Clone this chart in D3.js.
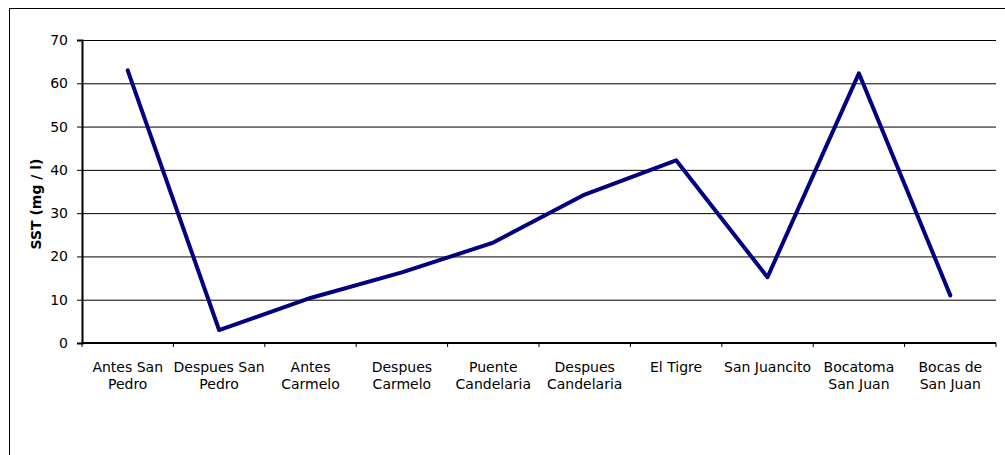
<!DOCTYPE html>
<html>
<head>
<meta charset="utf-8">
<script src="https://cdn.jsdelivr.net/npm/d3@7"></script>
<style>
  body { margin: 0; background: #fff; }
  text { font-family: "DejaVu Sans", Verdana, sans-serif; }
</style>
</head>
<body>
<svg id="chart" width="1005" height="455"></svg>
<script>
const sitios = [
  ["Antes San", "Pedro"], ["Despues San", "Pedro"], ["Antes", "Carmelo"],
  ["Despues", "Carmelo"], ["Puente", "Candelaria"], ["Despues", "Candelaria"],
  ["El Tigre"], ["San Juancito"], ["Bocatoma", "San Juan"], ["Bocas de", "San Juan"]
]
const sst = [63, 3, 10.4, 16.3, 23.2, 34.3, 42.2, 15.2, 62.3, 11]
const yTicks = [0, 10, 20, 30, 40, 50, 60, 70]

const svg = d3.select("#chart")

// marco exterior
svg.append("rect")
   .attr("x", 9.5).attr("y", 8.5)
   .attr("width", 1005).attr("height", 460)
   .attr("fill", "none").attr("stroke", "#000").attr("stroke-width", 1)

const plotLeft = 82, plotRight = 996, plotTop = 40, plotBottom = 343

const x = d3.scaleBand()
            .domain(d3.range(sitios.length))
            .range([plotLeft, plotRight])

const y = d3.scaleLinear()
            .domain([0, 70])
            .range([plotBottom, plotTop])

// lineas de grilla
svg.append("g")
   .selectAll("line")
   .data(yTicks.filter(d => d > 0))
   .enter().append("line")
   .attr("x1", plotLeft).attr("x2", plotRight)
   .attr("y1", d => y(d) + 0.5).attr("y2", d => y(d) + 0.5)
   .attr("stroke", "#000").attr("stroke-width", 1)

// eje y
const yAxis = svg.append("g")
   .attr("transform", "translate(" + plotLeft + ",0)")
   .call(d3.axisLeft(y).tickValues(yTicks).tickSize(5).tickPadding(9))
yAxis.select(".domain").attr("stroke-width", 2)
yAxis.selectAll("text").attr("font-size", 14).attr("fill", "#000")
     .attr("font-family", "DejaVu Sans")

// eje x
const xAxis = svg.append("g")
   .attr("transform", "translate(0," + plotBottom + ")")
xAxis.append("line")
     .attr("x1", plotLeft - 1).attr("x2", plotRight)
     .attr("y1", 0).attr("y2", 0)
     .attr("stroke", "#000").attr("stroke-width", 2)
xAxis.selectAll(".tk")
     .data(d3.range(sitios.length + 1))
     .enter().append("line")
     .attr("x1", d => plotLeft + d * x.step()).attr("x2", d => plotLeft + d * x.step())
     .attr("y1", 0).attr("y2", 4)
     .attr("stroke", "#000")

const labels = svg.append("g")
   .selectAll("text")
   .data(sitios)
   .enter().append("text")
   .attr("text-anchor", "middle")
   .attr("font-size", 14)
   .attr("fill", "#000")
   .attr("transform", (d, i) => "translate(" + (x(i) + x.bandwidth() / 2) + "," + (plotBottom + 29) + ")")
labels.selectAll("tspan")
      .data(d => d)
      .enter().append("tspan")
      .attr("x", 0)
      .attr("dy", (d, i) => i == 0 ? 0 : 17)
      .text(d => d)

// titulo del eje
svg.append("text")
   .attr("transform", "translate(41,204) rotate(-90)")
   .attr("text-anchor", "middle")
   .attr("font-size", 14)
   .attr("font-weight", "bold")
   .text("SST (mg / l)")

// serie
const line = d3.line()
               .x((d, i) => x(i) + x.bandwidth() / 2)
               .y(d => y(d))

svg.append("path")
   .datum(sst)
   .attr("d", line)
   .attr("fill", "none")
   .attr("stroke", "#000080")
   .attr("stroke-width", 4)
   .attr("stroke-linejoin", "round")
   .attr("stroke-linecap", "round")
</script>
</body>
</html>
